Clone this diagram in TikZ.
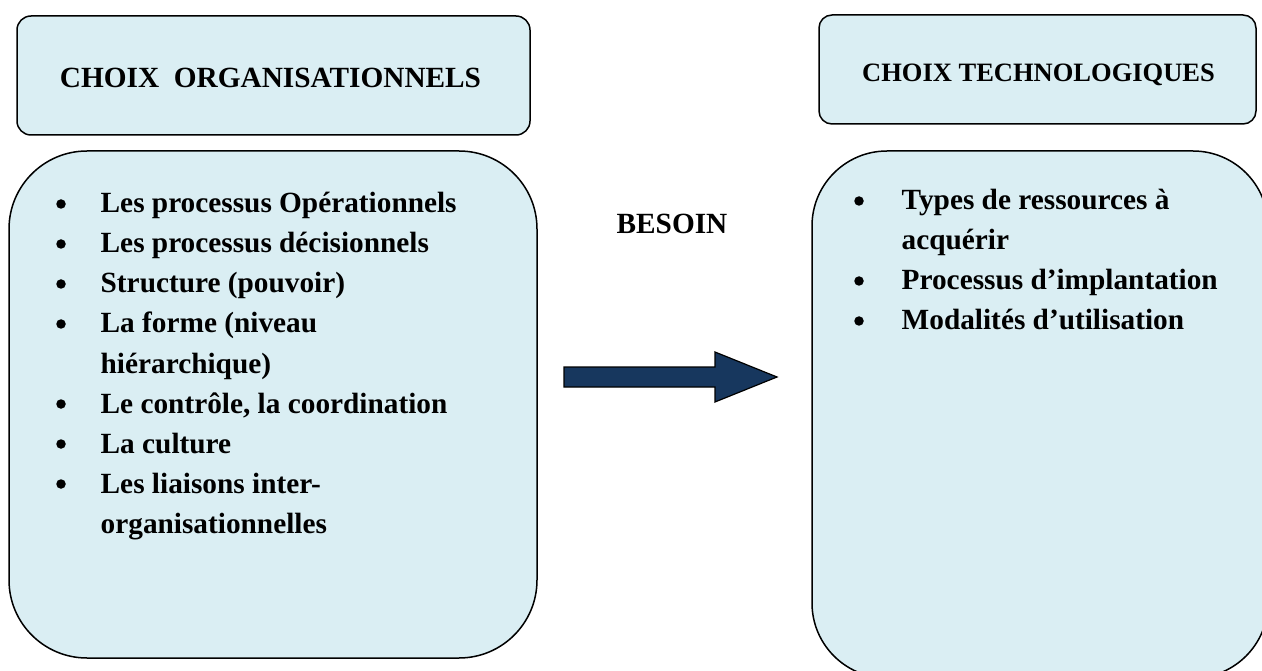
\documentclass[tikz,border=0pt]{standalone}
\usepackage{fontspec}
\setmainfont{Liberation Serif}
\definecolor{boxfill}{RGB}{218,238,243}
\definecolor{navy}{RGB}{23,55,94}
\tikzset{
  panel/.style={draw=black, line width=1.5pt, fill=boxfill, inner sep=0pt},
  heading/.style={anchor=base, inner sep=0pt, font=\fontsize{29.3}{35}\selectfont\bfseries},
  item/.style={anchor=base west, inner sep=0pt, font=\fontsize{29.3}{35}\selectfont\bfseries},
  dot/.style={circle, fill=black, inner sep=0pt, minimum size=9.5pt},
  blockarrow/.style={fill=navy, draw=black, line width=1.2pt, line join=miter}
}
\begin{document}
\begin{tikzpicture}[x=1pt,y=-1pt]
\useasboundingbox (0,0) rectangle (1262,671);
\clip (0,0) rectangle (1262,671);

% title boxes
\node[panel, rounded corners=14pt, minimum width=513pt, minimum height=119pt]
  (orgtitle) at (273.5,75.5) {};
\node[panel, rounded corners=13pt, minimum width=437pt, minimum height=109pt]
  (techtitle) at (1037.5,69.5) {};
\node[heading] (orglabel) at (270.5,87.5) {CHOIX~~ORGANISATIONNELS};
\node[heading, font=\fontsize{26.5}{31}\selectfont\bfseries] (techlabel) at (1038.5,82) {CHOIX TECHNOLOGIQUES};

% content boxes
\node[panel, rounded corners=78pt, minimum width=528pt, minimum height=507pt]
  (orgbox) at (273,404.5) {};
\node[panel, rounded corners=75pt, minimum width=456pt, minimum height=527pt]
  (techbox) at (1040,414.5) {};

% organisational choices
\node[item] (o1) at (100.5,213) {Les processus Opérationnels};
\node[item] (o2) at (100.5,253) {Les processus décisionnels};
\node[item] (o3) at (100.5,293) {Structure (pouvoir)};
\node[item] (o4) at (100.5,333) {La forme (niveau};
\node[item] (o5) at (100.5,373) {hiérarchique)};
\node[item] (o6) at (100.5,413) {Le contrôle, la coordination};
\node[item] (o7) at (100.5,453) {La culture};
\node[item] (o8) at (100.5,493) {Les liaisons inter-};
\node[item] (o9) at (100.5,533) {organisationnelles};
\node[dot] (b1) at (61,204) {};
\node[dot] (b2) at (61,244) {};
\node[dot] (b3) at (61,284) {};
\node[dot] (b4) at (61,324) {};
\node[dot] (b6) at (61,404) {};
\node[dot] (b7) at (61,444) {};
\node[dot] (b8) at (61,484) {};

% technological choices
\node[item] (t1) at (901.5,210) {Types de ressources à};
\node[item] (t2) at (901.5,250) {acquérir};
\node[item] (t3) at (901.5,290) {Processus d’implantation};
\node[item] (t4) at (901.5,330) {Modalités d’utilisation};
\node[dot] (c1) at (859,201) {};
\node[dot] (c3) at (859,281) {};
\node[dot] (c4) at (859,321) {};

% need arrow
\node[heading] (need) at (672,234) {BESOIN};
\draw[blockarrow] (564,367) -- (715,367) -- (715,352) -- (777,377)
  -- (715,402) -- (715,387) -- (564,387) -- cycle;
\end{tikzpicture}
\end{document}
